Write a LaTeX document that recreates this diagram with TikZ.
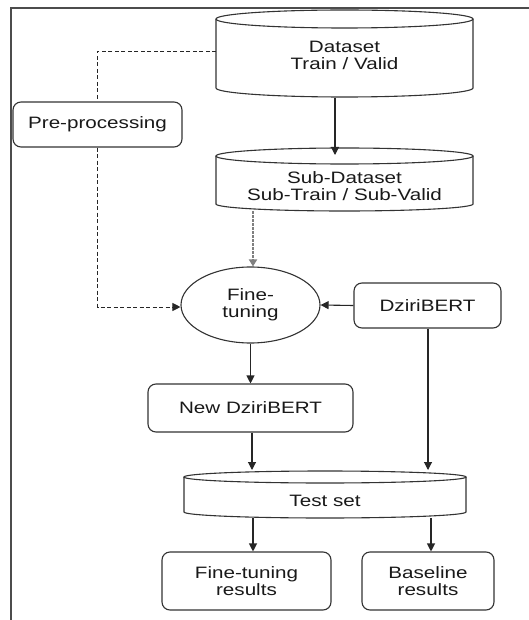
\documentclass[tikz,border=0pt]{standalone}
\usepackage{fontspec}
\setmainfont[FakeStretch=1.25]{Liberation Sans}
\usetikzlibrary{arrows.meta,shapes.geometric}
\tikzset{
  boxline/.style={draw=black!80, line width=1.1pt},
  rbox/.style={boxline, rounded corners=8pt, align=center, inner sep=0pt},
  txt/.style={align=center, font=\fontsize{16.5}{17}\selectfont, text=black!90},
  arr/.style={draw=black!85, line width=1.1pt, -{Triangle[length=8pt,width=8pt]}},
  darr/.style={draw=black!85, line width=0.9pt, dash pattern=on 4pt off 2.5pt, -{Triangle[length=8pt,width=8pt]}},
  garr/.style={draw=black!50, line width=2pt, dash pattern=on 2.5pt off 1.5pt, -{Triangle[length=7pt,width=8pt]}},
  dline/.style={draw=black!85, line width=0.9pt, dash pattern=on 4pt off 2.5pt},
}
% #1 name, #2 left, #3 right, #4 y top (centre of top ellipse), #5 y bottom, #6 ry top, #7 ry bottom
\newcommand\mycyl[7]{%
  \fill[white] (#2,-#4) rectangle (#3,-#5);
  \draw[boxline] (#2,-#4) -- (#2,-#5) arc[start angle=180,end angle=360,x radius={(#3-#2)/2},y radius=#7] -- (#3,-#4);
  \draw[boxline,fill=white] ({(#2+#3)/2},-#4) ellipse[x radius={(#3-#2)/2},y radius=#6];
  \coordinate (#1-t) at ({(#2+#3)/2},{-(#4-#6)});
  \coordinate (#1-b) at ({(#2+#3)/2},{-(#5+#7)});
}
\begin{document}
\begin{tikzpicture}[x=1pt,y=1pt]
\useasboundingbox (0,0) rectangle (529,-620);
\fill[white] (0,0) rectangle (529,-620);
% frame
\coordinate (fr-a) at (11,-620);
\coordinate (fr-b) at (11,-8);
\coordinate (fr-c) at (529,-8);
\draw[black!70, line width=2pt] (fr-a) -- (fr-b) -- (fr-c);

% cylinders
\mycyl{ds}{216}{473}{19}{88}{9}{9}
\node[txt] (ds) at (344.5,-55) {Dataset\\Train / Valid};
\mycyl{sub}{216}{473}{156}{204}{8}{7}
\node[txt] (sub) at (344.5,-186) {Sub-Dataset\\Sub-Train / Sub-Valid};
\mycyl{test}{184}{466}{477}{512}{6}{6}
\node[txt] (test) at (325,-501) {Test set};

% other nodes
\node[rbox, txt, minimum width=169pt, minimum height=45pt] (pre) at (97.5,-124.5) {Pre-processing};
\node[draw=black!80, line width=1.1pt, ellipse, txt, inner sep=0pt, minimum width=139pt, minimum height=76pt] (ft) at (250.5,-305) {Fine-\\tuning};
\node[rbox, txt, minimum width=147pt, minimum height=45pt] (dz) at (427.5,-305.5) {DziriBERT};
\node[rbox, txt, minimum width=205pt, minimum height=48pt] (newdz) at (250.5,-408) {New DziriBERT};
\node[rbox, txt, minimum width=169pt, minimum height=58pt] (ftres) at (246.5,-581) {Fine-tuning\\results};
\node[rbox, txt, minimum width=132pt, minimum height=58pt] (base) at (428,-581) {Baseline\\results};

% connectors
\coordinate (dsb1) at (335,-98);
\coordinate (subt1) at (335,-155);
\draw[arr] (dsb1) -- (subt1);
\coordinate (subb1) at (253,-211);
\draw[garr] (subb1) -- (ft.north -| subb1);
\coordinate (dsl) at (216,-51);
\coordinate (pcorner) at (97.5,-51);
\draw[dline] (dsl) -- (pcorner) -- (pre.north);
\coordinate (pcorner2) at (97.5,-307);
\draw[darr] (pre.south) -- (pcorner2) -- (ft.west |- pcorner2);
\draw[arr] (dz.west) -- (ft.east);
\coordinate (dzt) at (428,-470);
\draw[arr] (dz.south -| dzt) -- (dzt);
\draw[arr] (ft.south) -- (newdz.north);
\coordinate (testin) at (252,-470);
\draw[arr] (newdz.south -| testin) -- (testin);
\coordinate (testo1) at (253,-518);
\draw[arr] (testo1) -- (ftres.north -| testo1);
\coordinate (testo2) at (431,-518);
\draw[arr] (testo2) -- (base.north -| testo2);
\end{tikzpicture}
\end{document}
